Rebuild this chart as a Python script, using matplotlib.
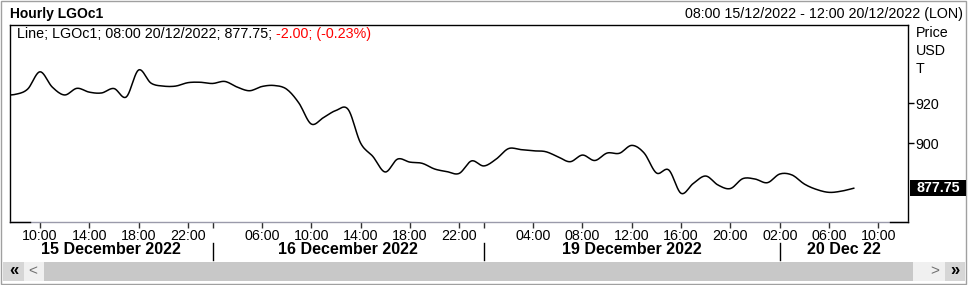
"""
Hourly LGOc1 line chart, trading-hour axis
"""
import numpy as np
import matplotlib.pyplot as plt
from matplotlib.patches import Rectangle
from matplotlib.lines import Line2D

plt.rcParams['font.family'] = ['Liberation Sans', 'DejaVu Sans']

# hourly closes, first value is the bar before 08:00 15/12 (clipped at the left edge)
price = [924.0, 924.3, 926.9, 935.5, 927.9, 924.0, 927.3, 925.4, 925.0, 927.2, 923.0,
         936.4, 929.9, 928.4, 928.4, 930.1, 930.3, 929.7, 930.7, 927.9, 926.1,
         928.2, 928.7, 926.9, 920.0, 909.6, 912.8, 916.3, 916.8, 900.2, 893.5,
         885.8, 892.2, 890.7, 890.1, 887.3, 886.0, 885.1, 891.3, 888.8, 892.2,
         897.4, 896.9, 896.3, 895.9, 893.4, 890.9, 894.2, 891.5, 895.2, 895.1,
         899.0, 895.2, 885.3, 886.8, 875.2, 880.2, 883.8, 879.3, 877.6, 882.5,
         882.3, 880.5, 884.8, 884.3, 879.8, 877.1, 875.7, 876.3, 877.75]
bar = np.arange(len(price)) - 1

tick_pos = [2, 6, 10, 14, 20, 24, 28, 32, 36, 42, 46, 50, 54, 58, 62, 66, 70]
tick_lab = ['10:00', '14:00', '18:00', '22:00', '06:00', '10:00', '14:00', '18:00',
            '22:00', '04:00', '08:00', '12:00', '16:00', '20:00', '02:00', '06:00', '10:00']
day_edges = [16, 38, 62]
day_names = ['15 December 2022', '16 December 2022', '19 December 2022', '20 Dec 22']
y_ticks = [920, 900]

W, H = 969, 285


def px(x, y):
    return x / W, 1 - y / H


def smooth(xs, ys, n=10):
    # catmull-rom through the hourly points, the terminal draws a rounded line
    xs = np.asarray(xs, float)
    ys = np.asarray(ys, float)
    px_ = np.concatenate([[xs[0]], xs, [xs[-1]]])
    py_ = np.concatenate([[ys[0]], ys, [ys[-1]]])
    t = np.linspace(0, 1, n, endpoint=False)[:, None]
    out_x, out_y = [], []
    for i in range(1, len(px_) - 2):
        for arr, out in ((px_, out_x), (py_, out_y)):
            p0, p1, p2, p3 = arr[i - 1], arr[i], arr[i + 1], arr[i + 2]
            v = 0.5 * (2 * p1 + (-p0 + p2) * t + (2 * p0 - 5 * p1 + 4 * p2 - p3) * t ** 2
                       + (-p0 + 3 * p1 - 3 * p2 + p3) * t ** 3)
            out.extend(v.ravel())
    out_x.append(xs[-1])
    out_y.append(ys[-1])
    return np.array(out_x), np.array(out_y)


fig = plt.figure(figsize=(W / 100, H / 100), dpi=100)

x0, y0 = px(9.5, 222)
x1, y1 = px(908, 25)
ax = fig.add_axes([x0, y0, x1 - x0, y1 - y0])

sx, sy = smooth(bar, price)
ax.plot(sx, sy, color='black', lw=1.1)
ax.set_xlim(-0.47, 72.4)
ax.set_ylim(861.0, 958.7)

for s in ['left', 'top', 'right']:
    ax.spines[s].set_color('black')
    ax.spines[s].set_linewidth(1.0)
ax.spines['bottom'].set_color('#9a9aaa')
ax.spines['bottom'].set_linewidth(1.0)
# short black pieces of the bottom line at both ends
fig.add_artist(Line2D([px(9.5, 0)[0], px(30, 0)[0]], [y0, y0], color='black', lw=1.0))
fig.add_artist(Line2D([px(890, 0)[0], px(908, 0)[0]], [y0, y0], color='black', lw=1.0))

ax.set_xticks(tick_pos)
ax.set_xticklabels(tick_lab)
ax.set_xticks(day_edges[:2], minor=True)
ax.tick_params(axis='x', which='both', direction='out', length=4, width=1,
               color='#303030', labelsize=10.3, pad=1)

ax.yaxis.tick_right()
ax.set_yticks(y_ticks)
ax.tick_params(axis='y', direction='out', length=4, width=1, color='black',
               labelsize=10.3, pad=1)

# day names under the hours, centred between the day separators
edges = [ax.get_xlim()[0]] + day_edges + [ax.get_xlim()[1]]
for i, name in enumerate(day_names):
    ax.text((edges[i] + edges[i + 1]) / 2, -0.142, name, transform=ax.get_xaxis_transform(),
            ha='center', va='center', fontsize=11.5, fontweight='bold', clip_on=False)
for e in day_edges:
    ax.plot([e, e], [-0.107, -0.193], transform=ax.get_xaxis_transform(),
            color='black', lw=1.0, clip_on=False)

# header
fig.text(*px(10, 14), 'Hourly LGOc1', fontsize=10, fontweight='bold', va='center')
fig.text(*px(963, 14), '08:00 15/12/2022 - 12:00 20/12/2022 (LON)', fontsize=10.3,
         ha='right', va='center')

# legend line, black part then red change
t1 = fig.text(*px(17, 34), 'Line; LGOc1; 08:00 20/12/2022; 877.75;', fontsize=10.3, va='center')
fig.canvas.draw()
bb = t1.get_window_extent()
fig.text((bb.x1 + 4) / W, px(0, 34)[1], '-2.00; (-0.23%)', fontsize=10.3, va='center', color='red')

# right axis unit labels
for lab, yy in zip(['Price', 'USD', 'T'], [33, 51, 69]):
    fig.text(*px(916, yy), lab, fontsize=10.3, va='center')

# last value box
fig.add_artist(Rectangle(px(910, 196), 56 / W, 16 / H, transform=fig.transFigure,
                         facecolor='black', edgecolor='none', zorder=5))
fig.text(*px(938, 188), '877.75', fontsize=10.3, fontweight='bold', color='white',
         ha='center', va='center', zorder=6)

# scroll bar
fig.add_artist(Rectangle(px(44, 281), (913 - 44) / W, 19 / H, transform=fig.transFigure,
                         facecolor='#c8c8c8', edgecolor='none'))
fig.add_artist(Rectangle(px(3, 281), 21 / W, 19 / H, transform=fig.transFigure,
                         facecolor='#d6d6d6', edgecolor='none'))
fig.add_artist(Rectangle(px(24, 281), 20 / W, 19 / H, transform=fig.transFigure,
                         facecolor='#f0f0f0', edgecolor='none'))
fig.add_artist(Rectangle(px(913, 281), 32 / W, 19 / H, transform=fig.transFigure,
                         facecolor='#f0f0f0', edgecolor='none'))
fig.add_artist(Rectangle(px(945, 281), 20 / W, 19 / H, transform=fig.transFigure,
                         facecolor='#d6d6d6', edgecolor='none'))
fig.text(*px(14, 271), '«', fontsize=12, fontweight='bold', ha='center', va='center')
fig.text(*px(33, 271), '<', fontsize=11, color='#707070', ha='center', va='center')
fig.text(*px(935, 271), '>', fontsize=11, color='#707070', ha='center', va='center')
fig.text(*px(955, 271), '»', fontsize=12, fontweight='bold', ha='center', va='center')

# window border
fig.add_artist(Rectangle(px(0.5, 283.5), 965.5 / W, 283 / H, transform=fig.transFigure,
                         facecolor='none', edgecolor='#a0a0a0', lw=1.0))

fig.savefig('out.png', dpi=100)
